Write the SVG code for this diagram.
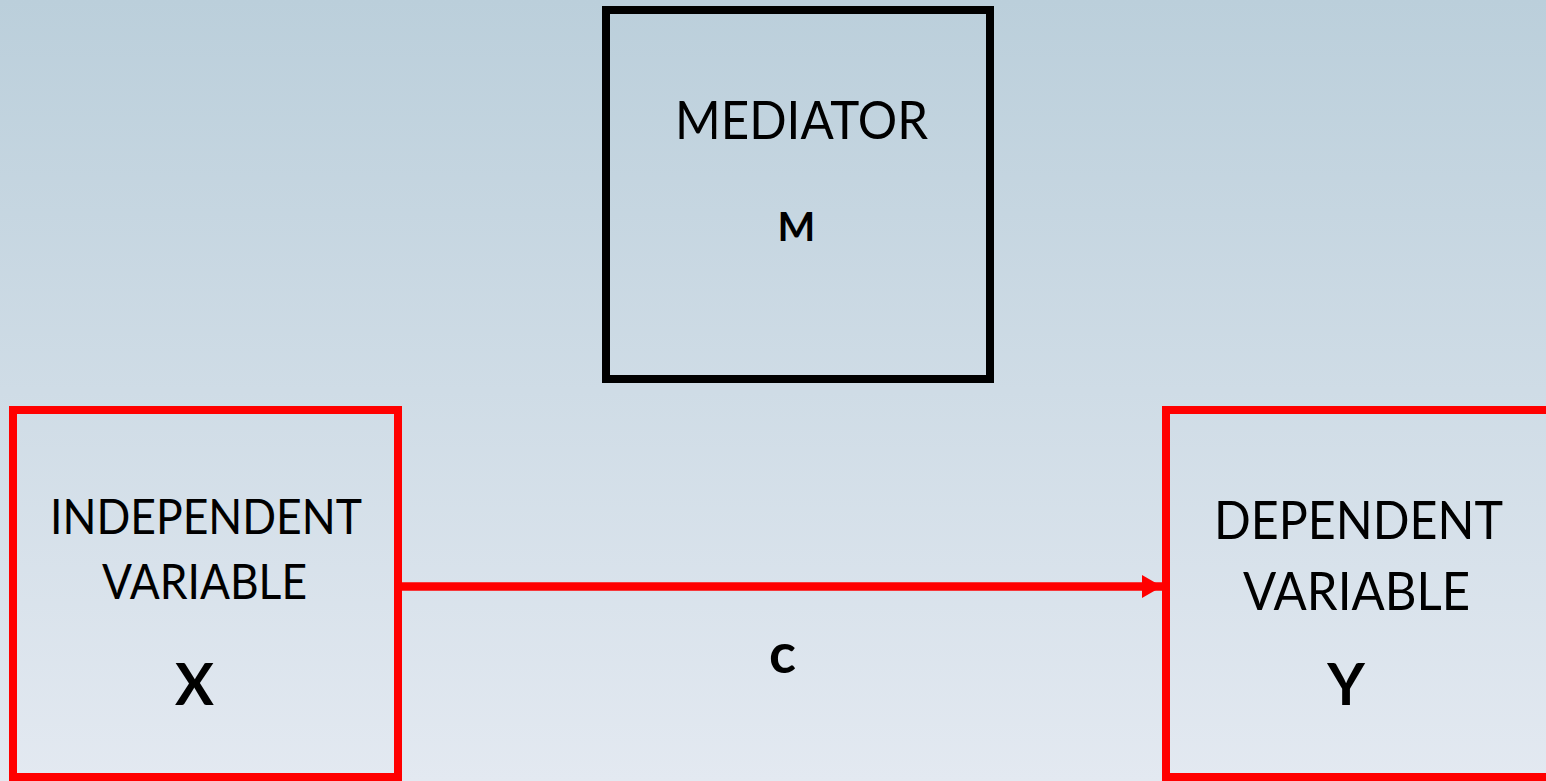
<svg xmlns="http://www.w3.org/2000/svg" width="1546" height="781" viewBox="0 0 1546 781">
<defs>
<linearGradient id="bg" x1="0" y1="0" x2="0" y2="1">
<stop offset="0" stop-color="#bbcfdb"/>
<stop offset="1" stop-color="#e3e9f1"/>
</linearGradient>
<marker id="arr" markerWidth="20" markerHeight="23" refX="20" refY="11.5" orient="auto" markerUnits="userSpaceOnUse">
<path d="M0,0 L20,11.5 L0,23 Z" fill="#ff0000"/>
</marker>
<style>
.box{fill:none;stroke-width:8}
.red{stroke:#ff0000}
.blk{stroke:#000000}
.t{font-family:Lato,"Open Sans","Liberation Sans",sans-serif;fill:#000;text-anchor:middle}
.b{font-weight:bold}
.conn{stroke:#ff0000;stroke-width:8.5;fill:none}
</style>
</defs>
<rect x="0" y="0" width="1546" height="781" fill="url(#bg)"/>
<g id="connectors">
<line class="conn" x1="402" y1="586.5" x2="1162" y2="586.5" marker-end="url(#arr)"/>
<text class="t b" x="782.5" y="673" font-size="56">c</text>
</g>
<g id="mediator">
<rect class="box blk" x="606" y="10" width="384" height="369"/>
<text class="t" x="801.5" y="139" font-size="51.5" textLength="253" lengthAdjust="spacingAndGlyphs">MEDIATOR</text>
<text class="t b" x="796.5" y="241" font-size="40">M</text>
</g>
<g id="independent">
<rect class="box red" x="13" y="410" width="385" height="367"/>
<text class="t" x="206" y="534" font-size="47.5" textLength="312" lengthAdjust="spacingAndGlyphs">INDEPENDENT</text>
<text class="t" x="204.5" y="599" font-size="47.5" textLength="205" lengthAdjust="spacingAndGlyphs">VARIABLE</text>
<text class="t b" x="194.5" y="705" font-size="58">X</text>
</g>
<g id="dependent">
<rect class="box red" x="1166" y="410" width="385" height="367"/>
<text class="t" x="1358.5" y="539" font-size="51.5" textLength="289" lengthAdjust="spacingAndGlyphs">DEPENDENT</text>
<text class="t" x="1356.5" y="610" font-size="51.5" textLength="227" lengthAdjust="spacingAndGlyphs">VARIABLE</text>
<text class="t b" x="1346" y="705" font-size="58">Y</text>
</g>
</svg>
